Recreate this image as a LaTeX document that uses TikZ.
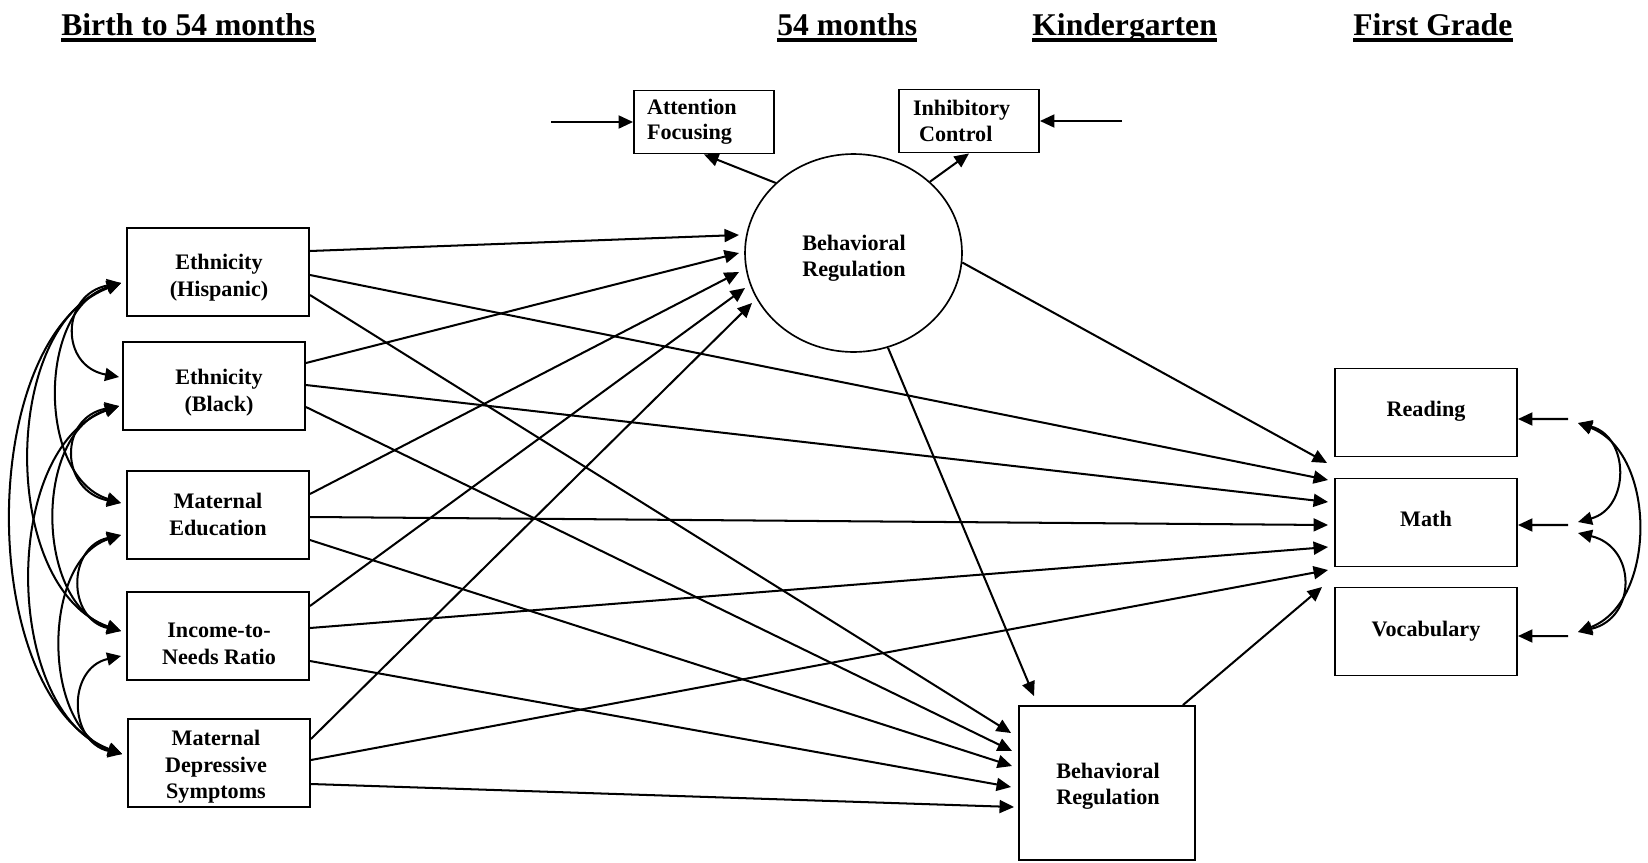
\documentclass[tikz,border=0pt]{standalone}
\usepackage{fontspec}
\setmainfont{Liberation Serif}
\usetikzlibrary{arrows.meta,calc,shapes.geometric}
\begin{document}
\begin{tikzpicture}[x=0.02cm,y=-0.02cm,
  txt/.style={font=\bfseries\fontsize{12.6}{15}\selectfont,align=center,inner sep=0pt},
  box/.style={draw,line width=1.1pt,minimum width=3.64cm,minimum height=1.76cm,inner sep=0pt},
  smallbox/.style={draw,line width=1.1pt,minimum height=1.26cm,align=left,inner ysep=0pt,font=\bfseries\fontsize{12.6}{14.4}\selectfont},
  hdr/.style={anchor=base west,inner sep=0pt,font=\bfseries\fontsize{18}{21}\selectfont},
  arr/.style={line width=1.15pt,-{Triangle[length=0.29cm,width=0.26cm]}},
  dbl/.style={line width=1.15pt,{Triangle[length=0.28cm,width=0.26cm]}-{Triangle[length=0.28cm,width=0.26cm]}},
  uline/.style={line width=2pt}
]
\useasboundingbox (0,0) rectangle (1648,862);

% headers
\node[hdr] (h1) at (61,35) {Birth to 54 months};
\node[hdr] (h2) at (777,35) {54 months};
\node[hdr] (h3) at (1032,35) {Kindergarten};
\node[hdr] (h4) at (1353,35) {First Grade};
\foreach \h in {h1,h2,h3,h4}{
  \draw[uline] ($(\h.base west)+(0,5)$) -- ($(\h.base east)+(0,5)$);
}

% left boxes
\node[box] (hisp) at (218,272) {};
\node[box] (black) at (214,386) {};
\node[box] (edu) at (218,515) {};
\node[box] (inc) at (218,636) {};
\node[box] (dep) at (219,763) {};
\node[txt] (hispT) at (219,277.5) {Ethnicity\\(Hispanic)};
\node[txt] (blackT) at (219,392.5) {Ethnicity\\(Black)};
\node[txt] (eduT) at (218,514.5) {Maternal\\Education};
\node[txt] (incT) at (219,644) {Income-to-\\Needs Ratio};
\node[txt] (depT) at (216,767) {Maternal\\Depressive\\Symptoms};

% 54 months
\node[draw,ellipse,line width=0.95pt,minimum width=4.34cm,minimum height=3.96cm,inner sep=0pt] (circ) at (853.5,253) {};
\node[txt] (circT) at (854,258) {Behavioral\\Regulation};
\node[smallbox,text width=2.28cm,inner xsep=0.26cm] (att) at (704,122) {Attention\\Focusing};
\node[smallbox,text width=2.24cm,inner xsep=0.28cm] (inh) at (969,121) {Inhibitory\\\hspace*{0.12cm}Control};

% kindergarten
\node[box,minimum width=3.52cm,minimum height=3.08cm] (br) at (1107,783) {};
\node[txt] (brT) at (1108,786) {Behavioral\\Regulation};

% first grade
\node[box] (read) at (1426,412.5) {};
\node[box] (math) at (1426,522.5) {};
\node[box] (voc) at (1426,631.5) {};
\node[txt] (readT) at (1426,410.8) {Reading};
\node[txt] (mathT) at (1426,519) {Math};
\node[txt] (vocT) at (1426,631) {Vocabulary};

% indicators
\coordinate (eAtt) at (551,122);
\coordinate (eInh) at (1122,121);
\draw[arr] (eAtt) -- (att.west);
\draw[arr] (eInh) -- (inh.east);
\draw[arr] (circ.138) -- (att.south);
\draw[arr] (circ.43) -- (inh.south);

% left -> circle
\draw[arr] ($(hisp.east)+(0,-21)$) -- ($(circ.center)+(-114.5,-18)$);
\draw[arr] ($(black.east)+(0,-23)$) -- ($(circ.center)+(-114.5,0)$);
\draw[arr] ($(edu.east)+(0,-21)$) -- ($(circ.center)+(-114.5,19)$);
\draw[arr] ($(inc.east)+(0,-30)$) -- ($(circ.center)+(-108.5,35)$);
\draw[arr] ($(dep.east)+(0,-24)$) -- ($(circ.center)+(-101.5,50)$);

% left -> math
\draw[arr] ($(hisp.east)+(0,3)$) -- ($(math.west)+(-6,-42.5)$);
\draw[arr] ($(black.east)+(0,-1)$) -- ($(math.west)+(-6,-20.5)$);
\draw[arr] ($(edu.east)+(0,2)$) -- ($(math.west)+(-6,2.5)$);
\draw[arr] ($(inc.east)+(0,-8)$) -- ($(math.west)+(-6,24.5)$);
\draw[arr] ($(dep.east)+(0,-3)$) -- ($(math.west)+(-6,47.5)$);

% left -> kindergarten BR
\draw[arr] ($(hisp.east)+(0,23)$) -- ($(br.west)+(-7,-50)$);
\draw[arr] ($(black.east)+(0,21)$) -- ($(br.west)+(-6,-32)$);
\draw[arr] ($(edu.east)+(0,25)$) -- ($(br.west)+(-6,-17)$);
\draw[arr] ($(inc.east)+(0,25)$) -- ($(br.west)+(-7,4)$);
\draw[arr] ($(dep.east)+(0,21)$) -- ($(br.west)+(-4,24)$);

% circle -> math, circle -> BR, BR -> math
\draw[arr] (circ.355) -- ($(math.west)+(-7,-59.5)$);
\draw[arr] (circ.290) -- ($(br.north)+(-73,-9)$);
\draw[arr] ($(br.north east)+(-13,0)$) -- ($(math.west)+(-12,64.5)$);

% left correlations
\coordinate (Lh) at ($(hisp.west)+(-5,11)$);
\coordinate (Lb1) at ($(black.west)+(-3,-9)$);
\coordinate (Lb2) at ($(black.west)+(-3,20)$);
\coordinate (Le1) at ($(edu.west)+(-5,-12)$);
\coordinate (Le2) at ($(edu.west)+(-5,20)$);
\coordinate (Li1) at ($(inc.west)+(-5,-5)$);
\coordinate (Li2) at ($(inc.west)+(-5,20)$);
\coordinate (Ld) at ($(dep.west)+(-5,-9)$);
\draw[dbl] (Lh) .. controls +(-60,11) and +(-60,-11) .. (Lb1);
\draw[dbl] (Lh) .. controls +(-84,26) and +(-84,-26) .. (Le1);
\draw[dbl] (Lh) .. controls +(-121,42) and +(-121,-42) .. (Li1);
\draw[dbl] (Lh) .. controls +(-146,56) and +(-146,-56) .. (Ld);
\draw[dbl] (Lb2) .. controls +(-61,12) and +(-61,-12) .. (Le1);
\draw[dbl] (Lb2) .. controls +(-86,27) and +(-86,-27) .. (Li1);
\draw[dbl] (Lb2) .. controls +(-119,42) and +(-119,-42) .. (Ld);
\draw[dbl] (Le2) .. controls +(-54,12) and +(-54,-12) .. (Li1);
\draw[dbl] (Le2) .. controls +(-80,26) and +(-80,-26) .. (Ld);
\draw[dbl] (Li2) .. controls +(-54,12) and +(-54,-12) .. (Ld);

% right residuals and correlations
\coordinate (rR) at (1568,419);
\coordinate (rM) at (1568,525);
\coordinate (rV) at (1568,636);
\draw[arr] (rR) -- ($(read.east)+(0,6.5)$);
\draw[arr] (rM) -- ($(math.east)+(0,2.5)$);
\draw[arr] (rV) -- ($(voc.east)+(0,4.5)$);
\coordinate (cR) at (1578,423);
\coordinate (cM1) at (1578,522);
\coordinate (cM2) at (1578,533);
\coordinate (cV) at (1578,632);
\draw[dbl] (cR) .. controls +(52,14) and +(52,-14) .. (cM1);
\draw[dbl] (cR) .. controls +(79,30) and +(79,-30) .. (cV);
\draw[dbl] (cM2) .. controls +(59,14) and +(59,-14) .. (cV);
\end{tikzpicture}
\end{document}
